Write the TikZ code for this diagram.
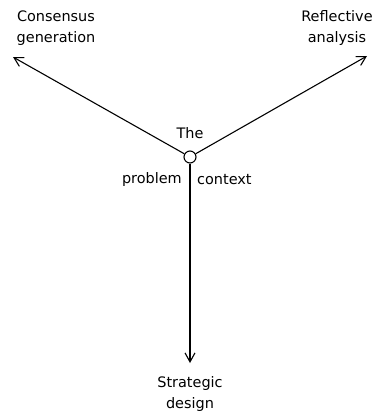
\documentclass[tikz,border=0pt]{standalone}
\usepackage{fontspec}
\setmainfont{DejaVu Sans}
\usetikzlibrary{arrows.meta, positioning}

\begin{document}
\begin{tikzpicture}[x=1bp,y=-1bp,
    every node/.style={font=\fontsize{14.5}{21}\selectfont, align=center, inner sep=0pt},
    spoke/.style={-{Straight Barb[length=9bp,width=10bp]}, line width=1.1pt}]
    \useasboundingbox (0,0) rectangle (374,416);

    \node[circle, draw, line width=1.1pt, minimum size=12bp] (ctx) at (190,157) {};
    %\node[draw] (ctx) ...
    \coordinate (cg) at (13,57);
    \coordinate (ra) at (367,56);
    \coordinate (sd) at (190,363);

    \node (cgt) at (56,28) {Consensus\\generation};
    \node (rat) at (337,28) {Reflective\\analysis};
    \node (sdt) at (190,394) {Strategic\\design};

    \node[above=12bp of ctx] (the) {The};
    \node[anchor=east] (prob) at (182,180) {problem};
    \node[anchor=west] (cont) at (197,180) {context};

    \draw[spoke] (ctx) -- (cg);
    \draw[spoke] (ctx) -- (ra);
    \draw[spoke] (ctx) -- (sd);
\end{tikzpicture}
\end{document}
